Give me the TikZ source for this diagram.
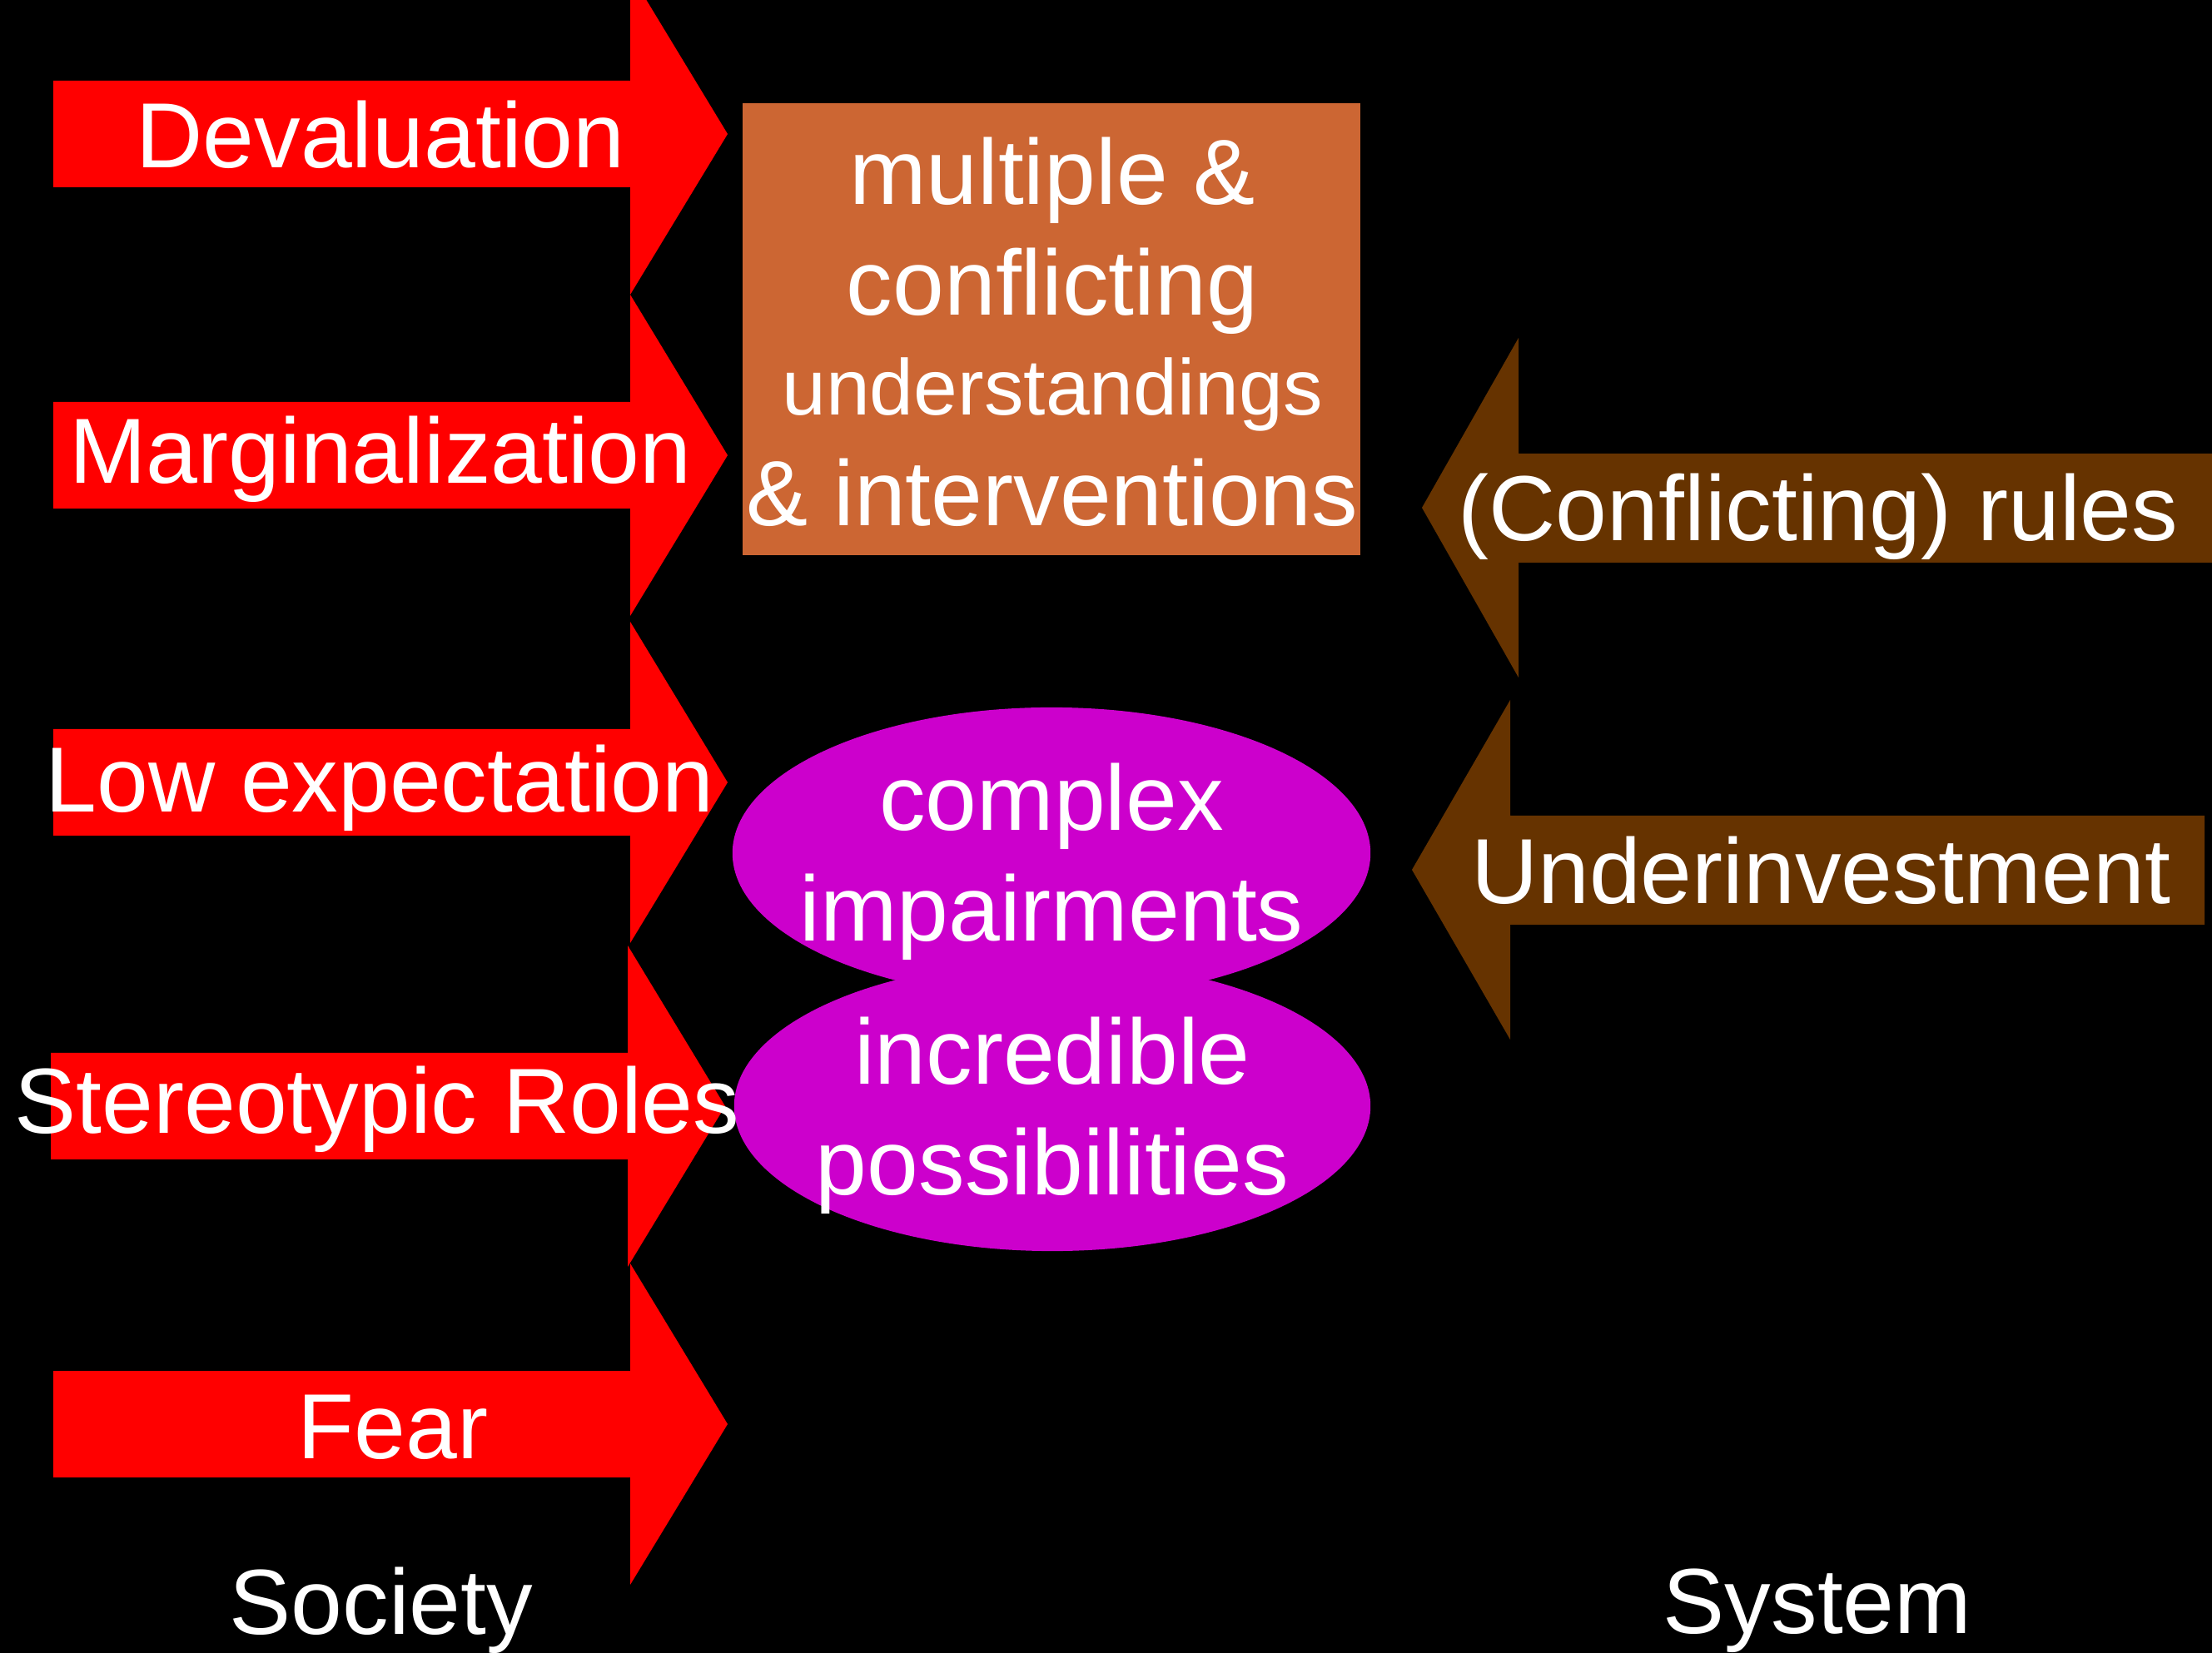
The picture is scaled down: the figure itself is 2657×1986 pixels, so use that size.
\documentclass[tikz,border=0pt]{standalone}
\usepackage{fontspec}
\setmainfont{Liberation Sans}

\definecolor{societyred}{RGB}{255,0,0}
\definecolor{systembrown}{RGB}{102,51,0}
\definecolor{viewsorange}{RGB}{204,102,51}
\definecolor{needsmagenta}{RGB}{204,0,204}

\newcommand{\slidefont}{\fontsize{31.6}{37.8}\selectfont}
\newcommand{\smallslidefont}{\fontsize{27}{37.8}\selectfont}

\begin{document}
\begin{tikzpicture}[x=0.01cm, y=-0.01cm]

        \useasboundingbox (0,0) rectangle (2657,1986);
        \fill[black] (0,0) rectangle (2657,1986);

        \fill[societyred] (64,97)   -- (757,97)   -- (757,-32)  -- (874,161)  -- (757,354)  -- (757,225)  -- (64,225)   -- cycle;
        \fill[societyred] (64,483)  -- (757,483)  -- (757,354)  -- (874,547)  -- (757,740)  -- (757,611)  -- (64,611)   -- cycle;
        \fill[societyred] (64,876)  -- (757,876)  -- (757,747)  -- (874,940)  -- (757,1133) -- (757,1004) -- (64,1004)  -- cycle;
        \fill[societyred] (61,1265) -- (754,1265) -- (754,1136) -- (871,1329) -- (754,1522) -- (754,1393) -- (61,1393)  -- cycle;
        \fill[societyred] (64,1647) -- (757,1647) -- (757,1518) -- (874,1711) -- (757,1904) -- (757,1775) -- (64,1775)  -- cycle;

        \fill[systembrown] (2660,545) -- (1824,545) -- (1824,406) -- (1708,610)  -- (1824,814)  -- (1824,676)  -- (2660,676)  -- cycle;
        \fill[systembrown] (2648,980) -- (1814,980) -- (1814,841) -- (1696,1045) -- (1814,1249) -- (1814,1111) -- (2648,1111) -- cycle;

        \fill[viewsorange] (892,124) rectangle (1634,667);

        \fill[needsmagenta] (1263,1025) ellipse (3.83cm and 1.75cm);
        \fill[needsmagenta] (1264,1329) ellipse (3.82cm and 1.74cm);

        \begin{scope}[every node/.style={text=white, font=\slidefont, inner sep=0pt}]

          \begin{scope}[every node/.append style={anchor=base}]
            \node (devaluation)  at (457,202)  {Devaluation};
            \node (marginal)     at (457,581)  {Marginalization};
            \node (lowexp)       at (456,976)  {Low expectation};
            \node (stereotypic)  at (453,1362) {Stereotypic Roles};
            \node (fear)         at (472,1752) {Fear};
            \node (society)      at (458,1963) {Society};
            \node (rules)        at (2184,650) {(Conflicting) rules};
            \node (underinvest)  at (2187,1086) {Underinvestment};
            \node (system)       at (2183,1962) {System};
          \end{scope}

          \node[align=center] (understand) at (1264,399)
            {multiple \&\\conflicting\\[-3.7pt]{\smallslidefont understandings}\\\& interventions};
          \node[align=center] (complex)    at (1263,1035) {complex\\impairments};
          \node[align=center] (possible)   at (1264,1340) {incredible\\possibilities};
        \end{scope}

      \end{tikzpicture}
\end{document}
